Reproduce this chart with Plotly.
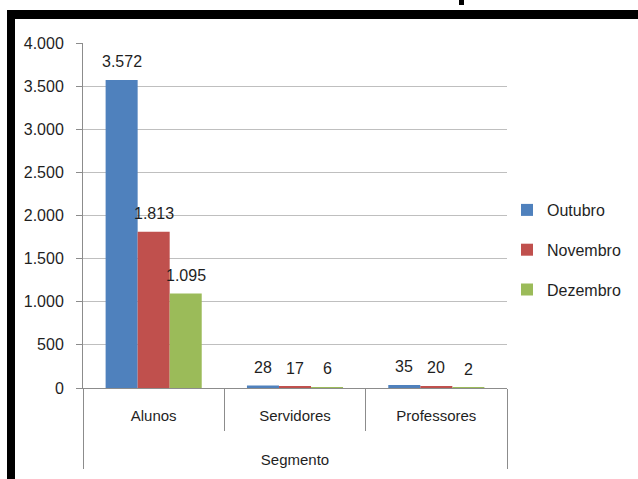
import plotly.graph_objects as go

categories = ["Alunos", "Servidores", "Professores"]
outer_label = "Segmento"
months = ["Outubro", "Novembro", "Dezembro"]
values = {
    "Outubro": [3572, 28, 35],
    "Novembro": [1813, 17, 20],
    "Dezembro": [1095, 6, 2],
}
colors = {"Outubro": "#4F81BD", "Novembro": "#C0504D", "Dezembro": "#9BBB59"}
y_ticks = [0, 500, 1000, 1500, 2000, 2500, 3000, 3500, 4000]

FONT = "Liberation Sans, Arial, sans-serif"
TXT = "#1f1f1f"
GRID = "#BFBFBF"
AX = "#8C8C8C"
bargap = 0.32

fig = go.Figure()
xcat = [["<br><br>" + outer_label] * len(categories), categories]
for i, m in enumerate(months):
    fig.add_trace(go.Bar(
        name=m, x=xcat, y=values[m], marker_color=colors[m],
        marker_line_width=0, legendgroup=m,
    ))

# data labels via annotations at bar centers (derived from bar width)
w = (1 - bargap) / len(months)
annotations = []
for j, m in enumerate(months):
    for i, v in enumerate(values[m]):
        annotations.append(dict(
            x=i + (j - 1) * w, y=v, xref="x", yref="y",
            text=f"{v:,}".replace(",", "."), showarrow=False,
            yanchor="bottom", yshift=8,
            font=dict(family=FONT, size=16, color=TXT),
        ))

def px_x(p):
    return (p - 83) / 424

def px_y(p):
    return (388 - p) / 345

shapes = [
    # black frame bands
    dict(type="rect", xref="paper", yref="paper",
         x0=px_x(7), x1=px_x(15), y0=px_y(479), y1=px_y(10),
         fillcolor="black", line_width=0, layer="above"),
    dict(type="rect", xref="paper", yref="paper",
         x0=px_x(7), x1=px_x(638), y0=px_y(19), y1=px_y(10),
         fillcolor="black", line_width=0, layer="above"),
    # cropped fragment of the title above the frame
    dict(type="rect", xref="paper", yref="paper",
         x0=px_x(459), x1=px_x(464), y0=px_y(5), y1=px_y(0),
         fillcolor="black", line_width=0, layer="above"),
]

fig.update_layout(
    width=638, height=479,
    margin=dict(l=83, r=131, t=43, b=91),
    paper_bgcolor="white", plot_bgcolor="white",
    separators=",.",
    bargap=bargap, bargroupgap=0, barmode="group",
    font=dict(family=FONT, size=15, color=TXT),
    showlegend=True,
    legend=dict(x=1.0, xanchor="left", y=0.4, yanchor="middle",
                font=dict(family=FONT, size=16, color=TXT),
                tracegroupgap=16, bgcolor="rgba(0,0,0,0)"),
    annotations=annotations,
    shapes=shapes,
)
fig.update_yaxes(
    range=[0, 4000], tickvals=y_ticks, tickformat=",.0f",
    showgrid=True, gridcolor=GRID, gridwidth=1,
    showline=True, linecolor=AX, linewidth=1,
    ticks="outside", ticklen=6, tickcolor=AX,
    ticklabelstandoff=9,
    tickfont=dict(family=FONT, size=16, color=TXT),
    zeroline=False,
)
fig.update_xaxes(
    type="multicategory",
    showline=True, linecolor=AX, linewidth=1,
    ticks="outside", tickson="boundaries", ticklen=42, tickcolor=AX,
    ticklabelstandoff=14,
    showdividers=True, dividercolor=AX, dividerwidth=1,
    tickfont=dict(family=FONT, size=15, color=TXT),
)

fig.write_html("out.html")
